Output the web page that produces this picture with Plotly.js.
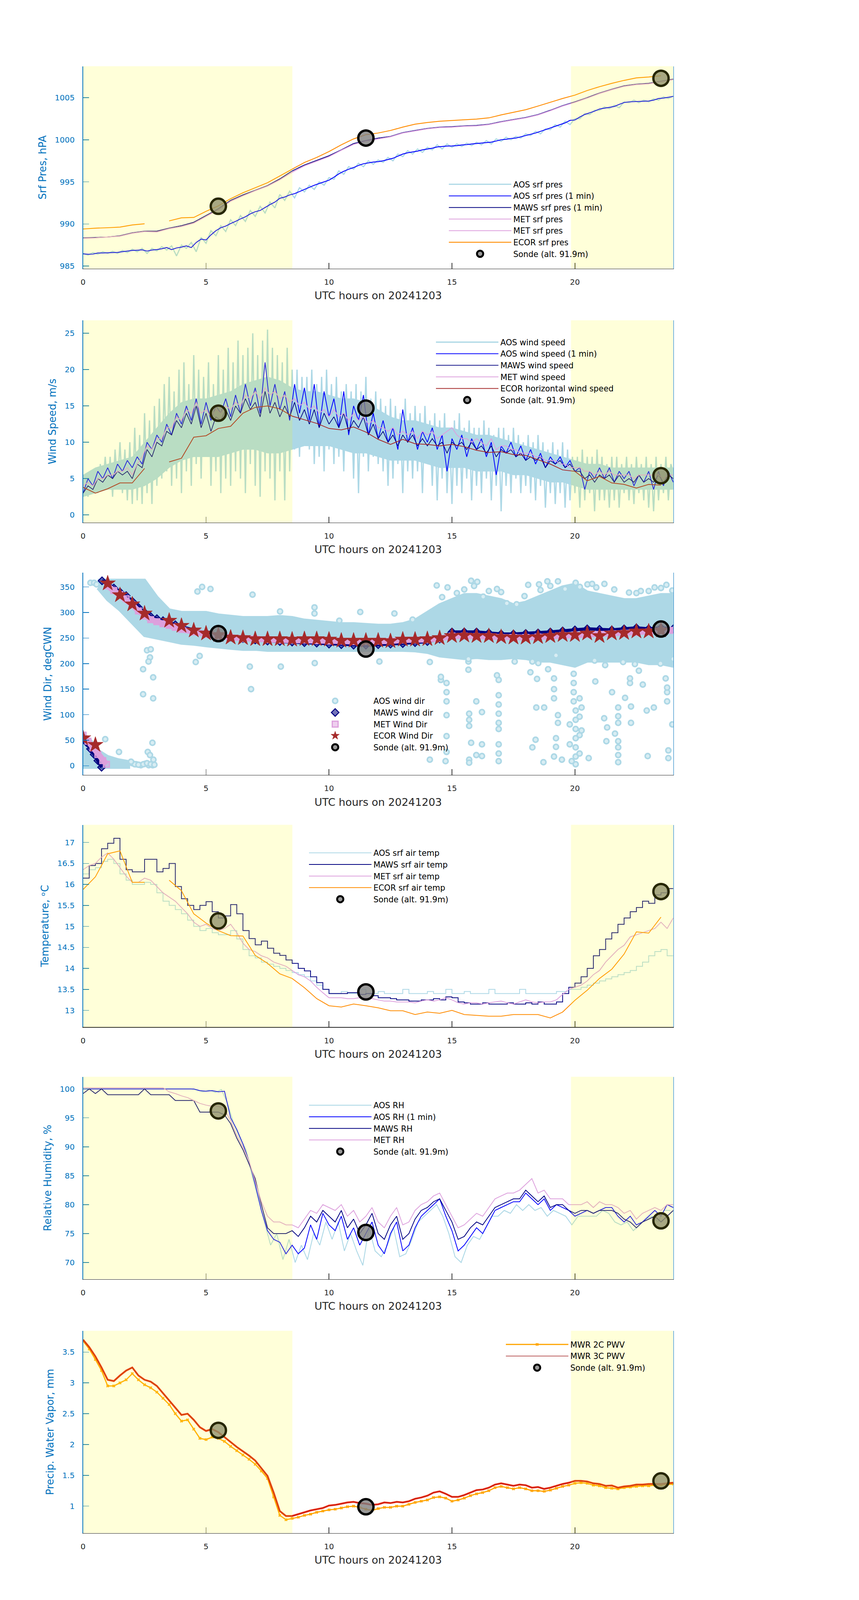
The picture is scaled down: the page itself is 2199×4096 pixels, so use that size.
<!DOCTYPE html>
<html><head><meta charset="utf-8">
<script src="https://cdn.plot.ly/plotly-3.0.1.min.js"></script>
<style>html,body{margin:0;padding:0;background:#fff;}#chart{width:2199px;height:4096px;}</style>
</head><body><div id="chart"></div>
<script>
function grid(a, step, n){ var r=[]; for(var i=0;i<n;i++) r.push(+(a+i*step).toFixed(3)); return r; }
var t01 = grid(0,0.1,241), t02 = grid(0,0.2,121), t025 = grid(0,0.25,97), t05 = grid(0,0.5,49);
var t025off = grid(0.125,0.25,96);
var tEcor = grid(0,0.5,48);
var sondeT = [5.5, 11.5, 23.5];

// ---------- Panel 1: surface pressure ----------
var presAOS = [986.5,986.3,986.6,986.4,986.7,986.5,
986.75,986.5,986.85,986.6,987.0, 986.7,987.1,986.5,987.1,986.8, 987.3,986.9,987.4,986.2,987.5,
987.1,987.8,986.7,988.4,987.7, 989.2,988.6,989.8,989.1,990.5, 989.8,991.0,990.3,991.6,990.9,
992.1,991.3,992.6,991.9,993.5, 992.8,993.9,993.1,994.3,993.8, 994.6,994.1,995.0,994.6,995.5,
995.3,996.3,995.9,996.8,996.5, 997.2,996.8,997.5,997.1,997.6, 997.3,997.9,997.5,998.3,998.0,
998.7,998.3,998.9,998.5,999.1, 998.8,999.4,998.9,999.5,999.1, 999.5,999.2,999.6,999.3,999.7,
999.4,999.9,999.5,1000.1,999.8, 1000.3,1000.0,1000.4,1000.2,1000.7, 1000.5,1001.0,1000.7,1001.3,1001.2,
1001.8,1001.5,1002.2,1001.8,1002.5, 1002.5,1003.1,1003.0,1003.5,1003.5, 1003.9,1003.7,1004.1,1003.8,1004.5,
1004.4,1004.7,1004.4,1004.7,1004.5, 1004.85,1004.7,1005.1,1004.9,1005.2];
var presAOS1 = [986.45,986.4,986.42,986.55,986.55,986.58,
986.6,986.62,986.7,986.78,986.85, 986.88,986.92,986.78,986.9,986.96, 987.05,987.2,986.95,987.15,987.25,
987.4,987.2,987.8,988.2,988.1, 988.7,989.2,989.55,989.75,990.05, 990.3,990.6,990.85,991.2,991.45,
991.6,991.95,992.3,992.6,993.05, 993.2,993.45,993.6,993.85,994.1, 994.35,994.6,994.8,995.0,995.2,
995.55,995.95,996.25,996.5,996.7, 996.95,997.15,997.25,997.35,997.4, 997.5,997.65,997.8,998.05,998.3,
998.45,998.55,998.65,998.8,998.9, 999.0,999.15,999.2,999.25,999.26, 999.3,999.38,999.42,999.5,999.55,
999.6,999.68,999.72,999.85,1000.0, 1000.05,1000.15,1000.2,1000.35,1000.5, 1000.65,1000.8,1001.0,1001.2,1001.4,
1001.6,1001.8,1002.0,1002.3,1002.35, 1002.7,1003.0,1003.2,1003.4,1003.65, 1003.75,1003.85,1003.95,1004.2,1004.42,
1004.5,1004.52,1004.55,1004.57,1004.6, 1004.7,1004.9,1004.95,1005.05,1005.15];
var presMAWS = [988.35,988.4,988.45,988.6,988.95,989.15,989.15,989.5,989.8,990.2,991.0,991.8,992.8,993.45,994.0,994.55,995.35,996.3,997.0,997.55,998.1,998.8,999.55,999.9,1000.2,1000.4,1000.85,1001.1,1001.35,1001.5,1001.55,1001.65,1001.7,1001.85,1002.15,1002.4,1002.65,1003.0,1003.5,1004.05,1004.5,1005.0,1005.55,1006.0,1006.4,1006.6,1006.7,1006.95,1007.2];
var presMET = [988.3,988.35,988.45,988.55,988.9,989.1,989.05,989.45,989.7,990.1,990.9,991.7,992.7,993.35,993.95,994.5,995.25,996.15,996.9,997.45,998.0,998.75,999.45,999.85,1000.1,1000.35,1000.8,1001.05,1001.3,1001.45,1001.5,1001.6,1001.65,1001.8,1002.1,1002.35,1002.6,1002.95,1003.45,1004.0,1004.45,1004.95,1005.5,1005.95,1006.35,1006.55,1006.65,1006.9,1007.15];
var presECOR = [989.4,989.5,989.55,989.63,989.88,990.02,null,990.36,990.73,990.77,991.5,992.15,993.0,993.7,994.3,994.9,995.7,996.5,997.3,997.9,998.6,999.4,1000.1,1000.6,1000.8,1001.1,1001.5,1001.85,1002.05,1002.2,1002.3,1002.37,1002.45,1002.6,1002.95,1003.25,1003.57,1004.0,1004.45,1004.9,1005.3,1005.85,1006.3,1006.7,1007.05,1007.35,1007.45,1007.6];
var presSonde = [992.1, 1000.2, 1007.3];

// ---------- Panel 2: wind speed ----------
var wsAOS = [3,5,2.5,6,3,5.5,
3,7,4,8,3.5, 8,2.5,9,4,10, 3,9,2,10,1.5, 12,2,11,1.5,14, 3,13,1.5,15,4, 16,5,18,6,19, 4,17,5,20,3,
21,6,18,4,22, 7,20,5,19,8, 21,4,18,6,22, 3,20,5,23,4, 21,6,24,5,22, 3,23,7,25,4, 22,2.5,24,6,25.5,
5,23,2,22,6, 21,2,23,6,20, 9,20,8,19,10, 19,9,20,7,18, 8,19,6,20,9, 18,7,19,8,17, 6,18,9,17,5,
18,3,17,8,19, 6,16,8,17,7, 16,6,15,4,16, 5,15,7,14,3, 16,6,14,5,15, 6,14,3,15,7, 13,4,14,2,13,
5,14,3,12,1.5, 13,4,14,3,12, 5,13,2,12,4, 12,3,13,5,12, 2,11,4,12,0.5, 12,4,11,3,12, 5,11,3,10,4,
11,3,10,2,11, 4,10,1,9,3, 10,1.5,9,3,10, 1,9,2,8,3, 8,1,9,2,8, 3,8,0.5,9,2, 8,2,7,1,8,
2,8,1,7,3, 8,2,7,1.5,8, 3,7,2,8,1, 7,0.5,8,2,7, 3,8,2,7,6];
// dense core of the AOS wind-speed cloud (read at 0.5 h)
var wsCoreLo = [2.5,3,3.5,3.5,3.5,4,5,6.5,7.5,8,8,8,8.5,9,9,8.5,8.5,9,9.5,9.5,9.5,9,8.5,8.5,8,7.5,7.5,7.5,7,6.5,6.5,6.5,6,6,6,5.5,5.5,5,4.5,4.5,4,3.5,3.5,3.5,3.5,3.5,3.5,3.5,3.5];
var wsCoreHi = [5.5,6.5,7,7.5,8,10,12,14,15.5,16,16,16.5,17,18,18.5,19,18.5,17.5,17,17,16.5,16,16,15.5,14.5,13.5,13,13,12.5,12,12,11.5,11,11,10.5,10,9.5,9,8.5,8,7.5,7,7,6.5,6.5,6.5,6.5,6.5,6.5];
var wsAOS1 = [3,5,4,6,5,6.5,
5,7,6,7.5,6.5, 8,7,10,9,11, 10,12.5,11,14,12.5, 15,13,16,12.5,15.5, 13,15,14,16,13.5, 16.5,14,18,15,17.5,
14,21,15,18,14.5, 17,13,18,14,17.5, 13,18,12,17,13.5, 16,12,17,11,15, 13,16.5,11,14,10.5, 13,10,12,9,14.5,
10,12,9,11.5,10, 12,9,11,6,10.5, 9,11,8,10.5,9, 10.5,8,10,5.5,9.5, 8.5,10,8,9.5,7.5, 9,7,8.5,6.5,8,
7,8,6.5,7.5,6, 6.5,3.5,6,5,6.5, 5,6.5,4.5,6,5, 6,4,5.5,4.5,6, 3.5,6,4,6,4.5];
var wsMAWS = [3,4,3.5,5,4.5,5.5,
5,6,5.5,6,5, 7,6.5,9,8,10, 9.5,11.5,11,13,12, 14,12.5,15,12,14, 11.5,13.5,13,14.5,13, 15,14,16,14.5,15.5,
13.5,17,14,15.5,13.5, 15,13.5,15.5,13,14.5, 12.5,14.5,12,14,12.5, 13.5,12,14,11.5,13, 12,13.5,11,12.5,10.5, 11.5,10,11,9.5,11,
10,11,9.5,10.5,9.5, 10.5,9.5,10,8.5,10, 9.5,10,9,10,9, 9.5,8.5,9.5,8,9, 8.5,9,8,8.5,7.5, 8,7.5,8,6.5,7.5,
7,7.5,6.5,7,6, 6,5,5.5,4.5,5.5, 5,5.5,4.5,5.5,4.5, 5,4.5,5.5,4.5,5, 4.5,5.5,4.5,5.5,5];
var wsMET = [4,4.5,4,5,5,5.5,
5.5,6,6,6.5,5.5, 7,8,9.5,9,10.5, 10.5,12,12,13.5,13, 14.5,14,15.5,14,14.5, 13.5,14.5,14,15,14.5, 15.5,15,16.5,16,17,
16,17.5,16.5,17,16, 16.5,15.5,16,15,15.5, 14.5,15,14,14.5,13.5, 14.5,13.5,14,13,14, 13,13.5,12.5,13,12, 12,11.5,12,11,11.5,
11,11.5,10.5,11.5,11, 11.5,10.5,11,11.5,12, 11,10.5,10.5,10,10.5, 10,9.5,10.5,9,9.5, 9.5,9,9,8.5,8.5, 8.5,8,8,7.5,7.5,
7.5,7,7,6.5,6.5, 6.5,6,6,5.5,6, 5.5,6,5.5,5.5,5.5, 5.5,5,5.5,5.5,5.5, 5.5,5.5,5,5.5,5.5];
var wsECOR = [3.8,3.0,3.6,4.4,4.4,6.4,null,7.3,7.8,10.7,10.9,11.9,12.2,14.0,14.8,15.0,14.6,13.6,13.1,12.6,11.9,11.7,12.1,11.4,10.4,9.7,10.4,9.8,9.7,9.5,9.7,9.4,8.9,8.6,8.7,8.3,8.2,7.6,7.0,6.2,6.0,4.7,5.3,4.4,4.2,3.7,4.2,4.1];
var wsSonde = [14.0, 14.7, 5.4];

// ---------- Panel 3: wind direction ----------
var dirBandT = [0.6,1,1.5,2,2.5,3,3.5,4,4.5,5,5.5,6,6.5,7,7.5,8,8.5,9,9.5,10,10.5,11,11.5,12,12.5,13,13.5,14,14.5,15,15.5,16,16.5,17,17.5,18,18.5,19,19.5,20,20.5,21,21.5,22,22.5,23,23.5,24];
var dirBandHi = [363,363,363,363,363,330,305,300,300,300,295,292,290,290,290,292,290,285,283,280,278,278,276,275,275,278,285,300,315,325,335,335,330,325,315,320,330,340,350,355,340,335,330,325,325,330,335,335];
var dirBandLo = [348,325,305,280,255,250,245,240,238,235,232,230,228,228,226,226,226,226,225,225,226,226,226,226,226,226,225,222,215,212,210,212,210,210,212,210,205,205,200,195,205,205,205,205,205,200,200,195];
var dirLowT = [0,0.3,0.6,1.0,1.4,1.85];
var dirLowHi = [62,50,30,18,12,8];
var dirLowLo = [-3,-3,-3,-3,-3,-3];
var aosDirT = [0.3,0.45,0.55,0.9,1.46,2.16,2.35,2.53,2.67,2.83,2.63,2.82,2.72,2.86,2.0,2.1,2.25,2.45,2.6,2.75,2.9,1.95,2.44,2.85,2.44,2.85,2.72,2.66,2.6,2.75,
4.65,4.84,5.18,6.89,9.41,9.41,8.01,11.27,12.66,10.42,13.4,4.58,4.74,6.78,8.04,9.42,12.05,6.83,
14.38,14.82,15.78,16.03,18.1,18.54,18.88,19.31,20.03,20.51,20.87,21.2,22.68,23.24,23.72,23.96,17.95,17.23,17.63,16.27,16.83,
15.2,15.5,16.5,17.0,18.6,19.6,20.2,21.6,22.2,23.0,23.5,14.6,15.9,19.0,20.7,22.5,
14.1,14.74,14.78,14.78,14.78,14.78,14.55,14.55,14.78,14.78,
15.7,15.7,15.7,15.7,15.7,15.78,15.99,16.22,16.22,16.22,15.99,15.67,15.67,
16.9,16.9,16.9,16.9,16.9,16.9,16.9,16.9,16.9,16.83,
18.43,18.75,18.27,18.4,18.72,18.19,18.46,19.15,19.15,19.15,19.31,19.31,19.23,19.23,19.15,19.47,18.91,
19.95,19.95,19.95,19.95,20.03,20.03,20.03,20.03,20.03,20.03,20.03,20.19,20.19,20.19,20.19,19.79,19.79,20.27,20.27,19.87,20.56,
20.83,21.19,21.31,21.51,21.76,21.76,21.76,21.76,21.76,21.76,21.76,21.63,21.28,22.28,22.28,22.24,22.24,22.76,22.96,22.92,23.21,23.75,23.75,23.75,23.8,23.8,23.96,23.69,22.04,22.6,
14.1,15.67,17.55,18.27,18.51,19.23,20.8,21.23,21.96,22.44,23.48,24.0];
var aosDirV = [358,358,355,52,27,3,1,4,1,1,27,45,21,12,5,3,2,3,5,3,2,8,189,173,140,132,212,204,226,228,
341,350,346,335,310,298,302,301,298,284,286,203,215,194,194,201,204,150,
353,349,362,360,354,355,361,361,358,355,349,356,342,349,354,343,332,318,316,331,346,
338,345,342,340,344,346,350,345,339,342,348,330,352,352,356,338,
12,9,126,144,162,99,168,174,58,27,
102,90,78,12,6,45,21,105,42,19,126,188,204,
168,138,120,102,84,72,42,24,9,177,
114,114,36,51,7,183,170,171,150,132,84,99,54,37,18,12,189,
180,162,144,126,108,90,72,54,36,18,3,132,96,60,24,42,81,114,69,9,15,
165,93,75,144,114,97,84,48,36,21,7,63,48,116,84,162,171,159,19,108,114,126,144,153,30,15,81,171,133,186,
203,209,204,204,201,216,206,197,203,199,200,209];
var dirMawsT = [0,0.15,0.3,0.45,0.6,0.75,0.76,0.77,1,1.25,1.5,1.75,2,2.25,2.5,2.75,3,3.25,3.5,3.75,4,4.5,5,5.5,6,6.5,7,7.5,8,8.5,9,9.5,10,10.5,11,11.5,12,12.5,13,13.5,14,14.5,15,15.5,16,16.5,17,17.5,18,18.5,19,19.5,20,20.5,21,21.5,22,22.5,23,23.5,24];
var dirMawsV = [55,45,33,22,10,-3,null,362,357,348,340,333,322,310,300,292,288,284,280,276,272,266,260,256,252,249,246,244,243,242,241,240,238,237,236,236,237,238,239,241,243,248,262,262,262,260,258,258,259,260,262,264,266,268,267,266,268,270,268,270,268];
var dirMetT = [0,0.2,0.4,0.6,0.8,0.95,0.97,1,1.25,1.5,1.75,2,2.25,2.5,2.75,3,3.25,3.5,3.75,4,4.5,5,5.5,6,6.5,7,7.5,8,8.5,9,9.5,10,10.5,11,11.5,12,12.5,13,13.5,14,14.5,15,15.5,16,16.5,17,17.5,18,18.5,19,19.5,20,20.5,21,21.5,22,22.5,23,23.5,24];
var dirMetV = [60,48,35,22,10,3,null,352,343,335,327,315,303,293,286,282,278,275,271,267,262,257,254,251,249,248,247,246,246,246,245,244,244,243,243,244,244,246,246,247,249,254,254,253,253,251,251,251,252,253,255,256,257,257,258,259,261,262,264,265];
var dirEcorT = [0,0.5,1,1.5,2,2.5,3.5,4,4.5,5,5.5,6,6.5,7,7.5,8,8.5,9,9.5,10,10.5,11,11.5,12,12.5,13,13.5,14,14.5,15,15.5,16,16.5,17,17.5,18,18.5,19,19.5,20,20.5,21,21.5,22,22.5,23,23.5];
var dirEcorV = [54,41,357,334,316,298,284,274,265,259,256,251,250,248,248,248,247,248,248,247,245,245,245,245,244,247,247,248,250,254,255,254,254,252,251,251,252,254,256,256,259,254,259,260,263,263,265];
var dirSonde = [258.6, 228.5, 267.6];

// ---------- Panel 4: temperature ----------
var tempAOS = [16.25,16.35,16.4,16.55,16.6,16.5,16.25,16.1,16.0,
16.0,16.05,16.0,15.8,15.6,15.5,15.4,15.3, 15.15,15.0,14.9,14.95,14.85,14.8,14.8,14.9,
14.7,14.45,14.3,14.25,14.15,14.1,14.05,14.0, 13.95,13.9,13.85,13.8,13.7,13.6,13.5,13.4,
13.4,13.45,13.4,13.4,13.5,13.4,13.4,13.45, 13.4,13.4,13.4,13.5,13.4,13.4,13.4,13.45,
13.4,13.4,13.5,13.4,13.4,13.45,13.4,13.4, 13.4,13.5,13.4,13.4,13.4,13.4,13.5,13.4,
13.4,13.4,13.4,13.4,13.45,13.45,13.5,13.5, 13.55,13.6,13.65,13.7,13.75,13.8,13.85,13.9,
13.95,14.05,14.15,14.3,14.4,14.45,14.3,14.3];
var tempMAWS = [16.15,16.45,16.5,16.85,16.98,17.1,16.6,16.35,16.3,
16.3,16.6,16.6,16.3,16.38,16.5,15.95,15.66, 15.5,15.4,15.5,15.59,15.35,15.2,15.25,15.52,
15.3,14.9,14.71,14.56,14.65,14.48,14.36,14.31, 14.2,14.12,14.0,13.94,13.8,13.66,13.5,13.4,
13.4,13.4,13.42,13.42,13.38,13.4,13.35,13.3, 13.3,13.28,13.25,13.25,13.22,13.22,13.25,13.25,
13.28,13.25,13.32,13.3,13.2,13.18,13.15,13.15, 13.18,13.15,13.15,13.15,13.18,13.15,13.15,13.18,
13.15,13.2,13.15,13.15,13.2,13.4,13.55,13.65, 13.8,14.0,14.3,14.45,14.7,14.85,15.05,15.2,
15.35,15.45,15.6,15.55,15.75,15.8,15.9,15.9];
var tempMET = [16.35,16.45,16.5,16.65,16.75,16.6,16.4,16.2,16.05,
16.05,16.15,16.1,15.95,15.8,15.7,15.6,15.45, 15.3,15.1,15.0,15.05,14.95,14.9,14.95,15.05,
14.85,14.6,14.45,14.4,14.3,14.25,14.15,14.1, 14.05,13.95,13.85,13.8,13.7,13.55,13.42,13.3,
13.3,13.3,13.28,13.28,13.3,13.3,13.28,13.25, 13.22,13.22,13.2,13.2,13.2,13.18,13.22,13.25,
13.22,13.25,13.3,13.25,13.18,13.15,13.18,13.18, 13.15,13.18,13.2,13.22,13.18,13.15,13.2,13.25,
13.2,13.18,13.2,13.2,13.25,13.38,13.5,13.55, 13.6,13.7,13.85,13.95,14.15,14.3,14.45,14.55,
14.75,14.8,14.85,14.9,14.95,15.1,14.95,15.2];
var tempECOR = [15.88,16.18,16.73,16.8,16.05,16.05,null,16.1,15.85,15.3,15.08,14.9,14.78,14.77,14.31,14.12,13.87,13.76,13.54,13.28,13.11,13.08,13.15,13.11,13.06,12.99,12.99,12.9,12.96,12.93,13.0,12.9,12.88,12.86,12.86,12.9,12.9,12.9,12.82,12.96,13.24,13.48,13.76,13.98,14.34,14.87,14.84,15.22];
var tempSonde = [15.13, 13.44, 15.83];

// ---------- Panel 5: relative humidity ----------
var rhAOS = [100,100,100,100,100,100,100,100,100,100,100,100,100,100,100,100,100,100,
99.8,99.5,99.8,99.4,99.9,97.5,94,91.5,89.5,85,81,77,73,75,70.5,74,70,73,70.5,75,73,77,
74,77,72,75,72,69.5,76,72,71,73,76,71,71.5,74,77,78,79,80,78,75,71,70,73,74.5,
74,76,78,78,79,78.5,80,79,80,79,79.5,78,79,78.5,78,76.5,78,78,78,78,79,78.5,
77,76.5,77,75.5,76.5,77.5,78,77,79,79];
var rhAOS1 = [100,100,100,100,100,100,100,100,100,
100,100,100,100,100,100,100,100, 100,100,99.7,99.6,99.7,99.5,99.6,95,
93,90.5,87.5,83.5,79,75.5,74,73.5, 71.5,73,71.5,72.5,76.5,74,78.5,76.5,
75.5,78,74,76,73,75,77,73, 71.5,75,77,72,73,76,78,79,
80,81,78,75.5,72,73,74.5,76, 75,77,79,79.5,80,80.5,80.5,82,
81,80,81,79,80,79.5,79,78, 78.5,79,78.5,79,79.5,79.5,78,77,
78,76.5,77,78,79,78,80,79.5];
var rhMAWS = [99.2,100,99.2,100,99,99,99,99,99,
99,100,99,99,99,99,98,98, 98,98,96,96,96,96,95.5,94,
91.5,89.5,87,84.5,80,76,75,75, 75,75.5,74.5,76,78,77,79,78,
77,79,76,77.5,75,76.5,78.5,75, 74,76.5,78,74,75,77.5,79,79.5,
80.5,81,79,77,74,74.5,76,77, 76.5,78,79.5,80,80.5,81,81,82.5,
81.5,80.5,81.5,79.5,80,80,79,78.5, 79,79,78.5,79,79,79,78.5,77.5,
77,76,77,77.5,78,77,78,79];
var rhMET = [100.2,100.2,100.2,100.2,100.2,100.2,100.2,100.2,100.2,
100.2,100.2,100.2,100.2,100.2,99.5,99.2,98.8, 98.5,98,97.5,97.2,97,97,96.5,94.5,
92,90,87.5,84,80.5,78,77,77, 76.5,76.5,76,77.5,79,78.5,80,79.5,
79,80,78,79,77,78,79.5,77, 76,78,79.5,76.5,77,79,80,80.5,
81.5,82,80,78,76,76.5,77.5,78.5, 78,79.5,81,81.5,82,82,82.5,83.5,
84.5,82,82.5,81,81,81,80,80, 80,80.5,79.5,80.5,80,80,79.5,78.5,
79,77.5,78.5,79,79.5,79,80,80];
var rhSonde = [96.2, 75.2, 77.2];

// ---------- Panel 6: precipitable water vapour ----------
var pwv2C = [3.68,3.55,3.38,3.2,2.95,2.95,3.0,3.05,3.15,
3.05,2.97,2.92,2.85,2.75,2.65,2.5,2.38, 2.4,2.25,2.1,2.08,2.12,2.1,2.05,1.97,
1.9,1.83,1.76,1.68,1.57,1.45,1.15,0.85, 0.78,0.8,0.82,0.85,0.87,0.9,0.92,0.94,
0.95,0.97,0.99,1.0,0.98,0.95,0.93,0.96, 0.98,0.98,1.0,1.0,1.03,1.06,1.08,1.1,
1.14,1.15,1.13,1.08,1.1,1.13,1.17,1.2, 1.22,1.25,1.3,1.32,1.3,1.28,1.3,1.28,
1.25,1.25,1.24,1.26,1.29,1.32,1.34,1.37, 1.38,1.37,1.34,1.33,1.3,1.29,1.28,1.3,
1.31,1.32,1.33,1.33,1.34,1.34,1.35,1.36];
var pwv3C = [3.70,3.58,3.43,3.25,3.05,3.03,3.12,3.2,3.25,
3.12,3.05,3.02,2.95,2.83,2.72,2.6,2.48, 2.5,2.4,2.28,2.22,2.25,2.2,2.12,2.04,
1.96,1.89,1.82,1.74,1.62,1.49,1.22,0.92, 0.84,0.84,0.87,0.9,0.93,0.95,0.97,1.01,
1.02,1.04,1.06,1.07,1.05,1.04,1.02,1.03, 1.06,1.05,1.07,1.06,1.08,1.12,1.14,1.17,
1.22,1.24,1.2,1.15,1.15,1.18,1.22,1.26, 1.27,1.3,1.35,1.37,1.35,1.33,1.35,1.34,
1.3,1.31,1.28,1.3,1.33,1.36,1.38,1.41, 1.41,1.4,1.37,1.36,1.33,1.335,1.3,1.32,
1.33,1.35,1.35,1.36,1.36,1.36,1.37,1.38];
var pwvSonde = [2.23, 0.99, 1.41];

var xTicks = [0,5,10,15,20];
var yTicks = [[985,990,995,1000,1005],[0,5,10,15,20,25],[0,50,100,150,200,250,300,350],[13,13.5,14,14.5,15,15.5,16,16.5,17],[70,75,80,85,90,95,100],[1,1.5,2,2.5,3,3.5]];
var yRanges = [[984.7,1008.73],[-1.05,26.78],[-18,378],[12.6,17.42],[67.13,102.1],[0.563,3.846]];
var yTitles = ['Srf Pres, hPA','Wind Speed, m/s','Wind Dir, degCWN','Temperature, \u1D52C','Relative Humidity, %','Precip. Water Vapor, mm'];
var xTitle = 'UTC hours on 20241203';

// ---------- styling / layout ----------
var W = 2199, H = 4096, RW = 3825, RH = 7125;
var F = 'DejaVu Sans', BLUE = '#0072BD', DARK = '#262626';
var C = {aos:'#ADD8E6', aos1:'#0000FF', maws:'#000080', met:'#DDA0DD', ecor:'#FF8C00', ecorws:'#A52A2A'};
var panelPx = [[295,1196],[1426.5,2327],[2550,3451],[3673,4574],[4795,5696],[5926,6827]];
var xDom = [370/RW, 2998/RW];
function sfx(k){ return k>1 ? String(k) : ''; }
function ax(k){ return {xaxis:'x'+sfx(k), yaxis:'y'+sfx(k)}; }
function L(k){ return 'legend'+sfx(k); }
var traces = [];
function addLine(k, x, y, name, color, width, extra){
  var tr = Object.assign({type:'scatter', mode:'lines', x:x, y:y, name:name, line:{color:color, width:width}, legend:L(k), connectgaps:false}, ax(k));
  if(extra) Object.assign(tr, extra);
  traces.push(tr);
}
function addBand(k, t, lo, hi, color){
  traces.push(Object.assign({type:'scatter', mode:'lines', x:t.concat(t.slice().reverse()), y:hi.concat(lo.slice().reverse()),
    fill:'toself', fillcolor:color, line:{color:color, width:1}, showlegend:false, legend:L(k)}, ax(k)));
}
function addSonde(k, y){
  traces.push(Object.assign({type:'scatter', mode:'markers', x:sondeT, y:y, name:'Sonde (alt. 91.9m)', legend:L(k),
    marker:{symbol:'circle', size:39, color:'rgba(128,128,128,0.8)', line:{color:'#000', width:6}}}, ax(k)));
}

// Panel 1
addLine(1, t02, presAOS, 'AOS srf pres', C.aos, 3);
addLine(1, t02, presAOS1, 'AOS srf pres (1 min)', C.aos1, 2.2);
addLine(1, t05, presMAWS, 'MAWS srf pres (1 min)', C.maws, 2);
addLine(1, t05, presMET, 'MET srf pres', C.met, 2);
addLine(1, t05, presMET, 'MET srf pres', C.met, 2);
addLine(1, tEcor, presECOR, 'ECOR srf pres', C.ecor, 2.2);
addSonde(1, presSonde);
// Panel 2
addBand(2, t05, wsCoreLo, wsCoreHi, C.aos);
addLine(2, t01, wsAOS, 'AOS wind speed', C.aos, 3.4);
addLine(2, t02, wsAOS1, 'AOS wind speed (1 min)', C.aos1, 2);
addLine(2, t02, wsMAWS, 'MAWS wind speed', C.maws, 1.8);
addLine(2, t02, wsMET, 'MET wind speed', C.met, 2);
addLine(2, tEcor, wsECOR, 'ECOR horizontal wind speed', C.ecorws, 2);
addSonde(2, wsSonde);
// Panel 3
var bandX = dirBandT.concat(dirBandT.slice().reverse());
var bandY = dirBandHi.concat(dirBandLo.slice().reverse());
traces.push(Object.assign({type:'scatter', mode:'lines', x:bandX, y:bandY, fill:'toself', fillcolor:C.aos, line:{color:C.aos, width:8}, showlegend:false, legend:L(3)}, ax(3)));
var lowX = dirLowT.concat(dirLowT.slice().reverse());
var lowY = dirLowHi.concat(dirLowLo.slice().reverse());
traces.push(Object.assign({type:'scatter', mode:'lines', x:lowX, y:lowY, fill:'toself', fillcolor:C.aos, line:{color:C.aos, width:8}, showlegend:false, legend:L(3)}, ax(3)));
traces.push(Object.assign({type:'scatter', mode:'markers', x:aosDirT, y:aosDirV, name:'AOS wind dir', legend:L(3),
  marker:{symbol:'circle', size:13, color:'#d8edf3', line:{color:C.aos, width:4}}}, ax(3)));
traces.push(Object.assign({type:'scatter', mode:'lines', x:dirMawsT, y:dirMawsV, showlegend:false, legend:L(3), line:{color:C.maws, width:8}, connectgaps:false}, ax(3)));
traces.push(Object.assign({type:'scatter', mode:'markers', x:dirMawsT, y:dirMawsV, name:'MAWS wind dir', legend:L(3),
  marker:{symbol:'diamond', size:15, color:'rgba(0,0,128,0.55)', line:{color:C.maws, width:2.5}}}, ax(3)));
traces.push(Object.assign({type:'scatter', mode:'lines', x:dirMetT, y:dirMetV, showlegend:false, legend:L(3), line:{color:C.met, width:15}, connectgaps:false}, ax(3)));
traces.push(Object.assign({type:'scatter', mode:'markers', x:dirMetT, y:dirMetV, name:'MET Wind Dir', legend:L(3),
  marker:{symbol:'square', size:15, color:'rgba(221,160,221,0.5)', line:{color:C.met, width:3}}}, ax(3)));
traces.push(Object.assign({type:'scatter', mode:'markers', x:dirEcorT, y:dirEcorV, name:'ECOR Wind Dir', legend:L(3),
  marker:{symbol:'star', size:30, color:'#A52A2A', line:{color:'#A52A2A', width:1}}}, ax(3)));
addSonde(3, dirSonde);
// Panel 4
addLine(4, t025, tempAOS, 'AOS srf air temp', C.aos, 2, {line:{color:C.aos,width:2,shape:'hv'}});
addLine(4, t025, tempMAWS, 'MAWS srf air temp', C.maws, 2, {line:{color:C.maws,width:2,shape:'hv'}});
addLine(4, t025, tempMET, 'MET srf air temp', C.met, 2);
addLine(4, tEcor, tempECOR, 'ECOR srf air temp', C.ecor, 2);
addSonde(4, tempSonde);
// Panel 5
addLine(5, t025off, rhAOS, 'AOS RH', C.aos, 2.2);
addLine(5, t025, rhAOS1, 'AOS RH (1 min)', C.aos1, 2);
addLine(5, t025, rhMAWS, 'MAWS RH', C.maws, 2);
addLine(5, t025, rhMET, 'MET RH', C.met, 2);
addSonde(5, rhSonde);
// Panel 6
addLine(6, t025, pwv2C, 'MWR 2C PWV', '#FFA500', 3, {mode:'lines+markers', marker:{symbol:'x', size:7, color:'#FFA500'}});
addLine(6, t025, pwv3C, 'MWR 3C PWV', '#FF2200', 4.5, {showlegend:false});
addLine(6, t025, pwv3C, 'MWR 3C PWV', '#A52A2A', 1.5);
addSonde(6, pwvSonde);

var layout = {width:W, height:H, margin:{l:0,r:0,t:0,b:0}, paper_bgcolor:'#fff', plot_bgcolor:'rgba(0,0,0,0)', showlegend:true, shapes:[]};
for(var k=1;k<=6;k++){
  var p = panelPx[k-1];
  layout['xaxis'+sfx(k)] = {domain:xDom, anchor:'y'+sfx(k), range:[0,24], tickvals:xTicks, ticks:'inside', ticklen:15, tickwidth:1.5, tickcolor:'#333',
    showline:true, linecolor:DARK, linewidth:1.5, mirror:false, showgrid:false, zeroline:false, ticklabelstandoff:16,
    tickfont:{family:F, size:20, color:DARK}, title:{text:xTitle, font:{family:F, size:27, color:DARK}, standoff:14}, fixedrange:true};
  layout['yaxis'+sfx(k)] = {domain:[1-p[1]/RH, 1-p[0]/RH], anchor:'x'+sfx(k), range:yRanges[k-1], tickvals:yTicks[k-1], ticks:'inside', ticklen:15, tickwidth:1.5,
    tickcolor:BLUE, showline:true, linecolor:BLUE, linewidth:1.5, mirror:true, showgrid:false, zeroline:false, ticklabelstandoff:16,
    tickfont:{family:F, size:20, color:BLUE}, title:{text:yTitles[k-1], font:{family:F, size:26, color:BLUE}, standoff:14}, fixedrange:true};
  if(k!==3){
    [[0,8.51],[19.84,24]].forEach(function(s){
      layout.shapes.push({type:'rect', xref:'x'+sfx(k), yref:'y'+sfx(k)+' domain', x0:s[0], x1:s[1], y0:0, y1:1,
        fillcolor:'rgba(255,255,0,0.15)', line:{width:0}, layer:'above'});
    });
  }
}
var legBase = {bgcolor:'rgba(0,0,0,0)', borderwidth:0, font:{family:F, size:20.5, color:'#000'}, xanchor:'left', yanchor:'top', tracegroupgap:0, traceorder:'normal'};
var legPos = [[1144,452,160],[1111,856,160],[760,1774.5,186],[786,2163.5,160],[786,2809.5,160],[1290,3422,160]];
for(var k=1;k<=6;k++){
  var lp = legPos[k-1];
  layout[L(k)] = Object.assign({}, legBase, {x:lp[0]/W, y:1-lp[1]/H, itemwidth:lp[2]});
}
Plotly.newPlot('chart', traces, layout, {displayModeBar:false, staticPlot:true});
</script></body></html>
